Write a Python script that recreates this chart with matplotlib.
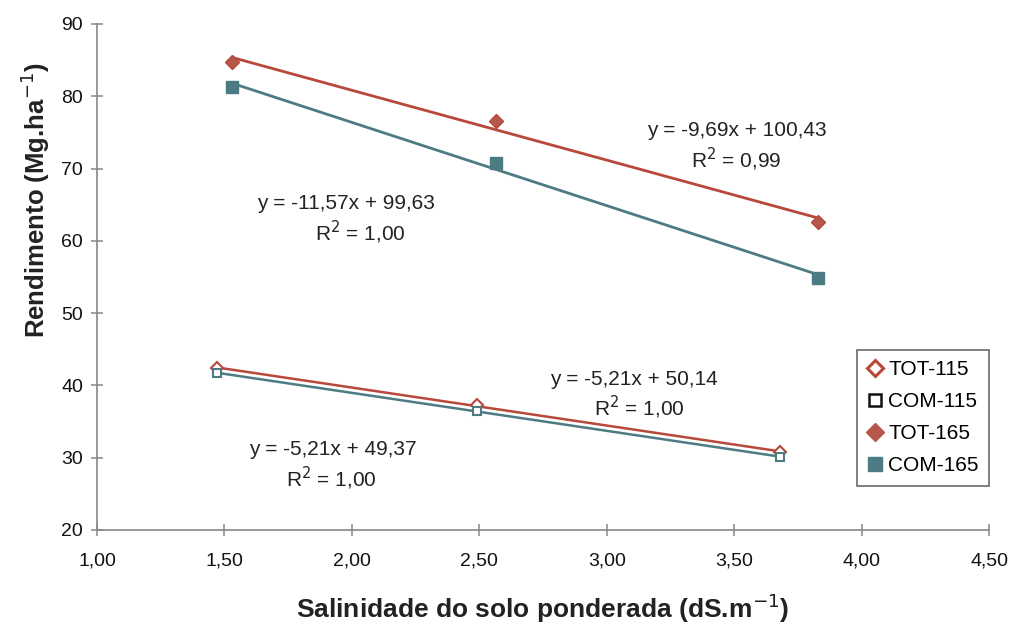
import matplotlib
matplotlib.use("Agg")
import matplotlib.pyplot as plt
import numpy as np
from matplotlib.ticker import FuncFormatter, MultipleLocator

plt.rcParams['font.family'] = ['Liberation Sans', 'DejaVu Sans']

# Data
x_115 = [1.47, 2.49, 3.68]
tot_115 = [42.4, 37.3, 30.8]
com_115 = [41.7, 36.5, 30.1]
x_165 = [1.53, 2.565, 3.83]
tot_165 = [84.7, 76.6, 62.6]
com_165 = [81.3, 70.8, 54.9]

series_labels = ["TOT-115", "COM-115", "TOT-165", "COM-165"]
equations = [
    ("y = -9,69x + 100,43", "R$^2$ = 0,99"),
    ("y = -11,57x + 99,63", "R$^2$ = 1,00"),
    ("y = -5,21x + 50,14", "R$^2$ = 1,00"),
    ("y = -5,21x + 49,37", "R$^2$ = 1,00"),
]
eq_pos = [((3.51, 75.3), (3.51, 71.2)),
          ((1.976, 65.2), (2.035, 61.2)),
          ((3.106, 40.8), (3.13, 36.9)),
          ((1.925, 31.1), (1.918, 27.1))]

red = "#b8483a"
teal = "#4d7b84"
red_fill = "#b5574a"

fig = plt.figure(figsize=(10.13, 6.24), dpi=100)
ax = fig.add_axes([97/1013, (624-530)/624, (989-97)/1013, (530-24)/624])


def trend(xs, ys, color, lw):
    xs = np.asarray(xs)
    k, b = np.polyfit(xs, ys, 1)
    xx = np.array([xs.min(), xs.max()])
    ax.plot(xx, k * xx + b, color=color, lw=lw, zorder=2)


trend(x_115, tot_115, red, 1.8)
trend(x_115, com_115, teal, 1.8)
trend(x_165, tot_165, red, 2.0)
trend(x_165, com_165, teal, 2.0)

ax.plot(x_115, tot_115, ls='none', marker='D', ms=6, mfc='white',
        mec=red, mew=1.5, zorder=3)
ax.plot(x_115, com_115, ls='none', marker='s', ms=6, mfc='white',
        mec=teal, mew=1.5, zorder=3)
ax.plot(x_165, tot_165, ls='none', marker='D', ms=7.5, mfc=red_fill,
        mec=red, zorder=3)
ax.plot(x_165, com_165, ls='none', marker='s', ms=8.5, mfc=teal,
        mec=teal, zorder=3)

for (eq, r2), (p1, p2) in zip(equations, eq_pos):
    ax.text(p1[0], p1[1], eq, ha='center', va='center', fontsize=15, color='#222222')
    ax.text(p2[0], p2[1], r2, ha='center', va='center', fontsize=15, color='#222222')

ax.set_xlim(1.0, 4.5)
ax.set_ylim(20, 90)
ax.xaxis.set_major_locator(MultipleLocator(0.5))
ax.yaxis.set_major_locator(MultipleLocator(10))
ax.xaxis.set_major_formatter(FuncFormatter(lambda v, p: f"{v:.2f}".replace('.', ',')))
ax.yaxis.set_major_formatter(FuncFormatter(lambda v, p: f"{v:.0f}"))

for s in ['top', 'right']:
    ax.spines[s].set_visible(False)
for s in ['left', 'bottom']:
    ax.spines[s].set_color('#888888')
    ax.spines[s].set_linewidth(1.2)
ax.tick_params(axis='both', direction='inout', length=8, width=1.1, color='#888888',
               labelsize=14, labelcolor='#111111')
ax.tick_params(axis='x', pad=12)
ax.tick_params(axis='y', pad=6)

ax.set_xlabel("Salinidade do solo ponderada (dS.m$^{-1}$)", fontsize=19,
              fontweight='bold', labelpad=16, color='#222222')
ax.set_ylabel("Rendimento (Mg.ha$^{-1}$)", fontsize=18.5, fontweight='bold',
              color='#222222')
ax.yaxis.set_label_coords(-0.05, 0.652)

handles = [
    plt.Line2D([], [], ls='none', marker='D', ms=8, mfc='white', mec=red, mew=2.2),
    plt.Line2D([], [], ls='none', marker='s', ms=9, mfc='white', mec='#111111', mew=1.8),
    plt.Line2D([], [], ls='none', marker='D', ms=9, mfc=red_fill, mec=red_fill),
    plt.Line2D([], [], ls='none', marker='s', ms=10, mfc=teal, mec=teal),
]
leg = ax.legend(handles, series_labels, loc='upper right',
                bbox_to_anchor=(1.0, (530-350)/506), fontsize=15,
                frameon=True, fancybox=False, edgecolor='#444444',
                handlelength=0.7, handletextpad=0.3, borderpad=0.5,
                labelspacing=0.62, borderaxespad=0.0)
leg.get_frame().set_linewidth(1.2)

fig.savefig("out.png", dpi=100)
